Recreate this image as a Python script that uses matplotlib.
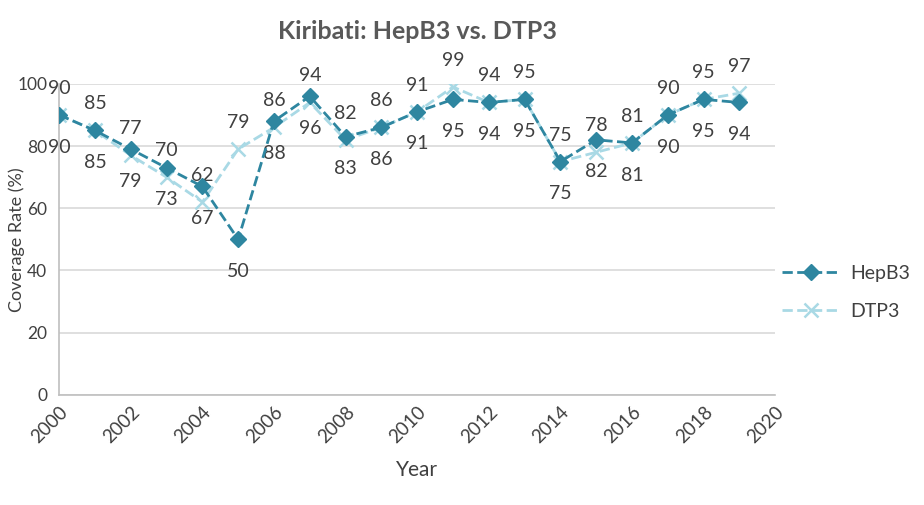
import matplotlib.pyplot as plt
import numpy as np

years = list(range(2000, 2020))
hepb3 = [90, 85, 79, 73, 67, 50, 88, 96, 83, 86, 91, 95, 94, 95, 75, 82, 81, 90, 95, 94]
dtp3 = [90, 85, 77, 70, 62, 79, 86, 94, 82, 86, 91, 99, 94, 95, 75, 78, 81, 90, 95, 97]

plt.rcParams['font.family'] = ['Lato', 'DejaVu Sans']
txt = '#404040'
dark = '#2E86A0'
light = '#A9D9E5'

fig = plt.figure(figsize=(9.24, 5.05), dpi=100)
ax = fig.add_axes([0.064, 0.218, 0.775, 0.616])

ax.plot(years, dtp3, color=light, ls='--', lw=2, marker='x', ms=10, mew=1.8,
        label='DTP3', zorder=3)
ax.plot(years, hepb3, color=dark, ls='--', lw=2, marker='D', ms=8,
        label='HepB3', zorder=4)

# labels: DTP3 above, HepB3 below
for x, v in zip(years, dtp3):
    ax.annotate(str(v), (x, v), xytext=(0, 13), textcoords='offset points',
                ha='center', va='bottom', fontsize=14, color=txt)
for x, v in zip(years, hepb3):
    ax.annotate(str(v), (x, v), xytext=(0, -17), textcoords='offset points',
                ha='center', va='top', fontsize=14, color=txt)

ax.set_xlim(2000, 2020)
ax.set_ylim(0, 100)
ax.set_xticks(range(2000, 2021, 2))
ax.set_yticks(range(0, 101, 20))
ax.tick_params(axis='x', labelrotation=45, length=0, labelsize=13.5, colors=txt, pad=6)
ax.tick_params(axis='y', length=0, labelsize=12.5, colors=txt, pad=8.5)
for lab in ax.get_xticklabels():
    lab.set_ha('right')
    lab.set_rotation_mode('anchor')
ax.grid(axis='y', color='#D9D9D9', lw=1.2)
ax.set_axisbelow(True)
for s in ['top', 'right']:
    ax.spines[s].set_visible(False)
for s in ['left', 'bottom']:
    ax.spines[s].set_color('#BFBFBF')
    ax.spines[s].set_linewidth(1.2)

ax.set_xlabel('Year', fontsize=15, color=txt, labelpad=10)
ax.set_ylabel('Coverage Rate (%)', fontsize=13, color=txt)
ax.yaxis.set_label_coords(-0.048, 0.5)
ax.set_title('Kiribati: HepB3 vs. DTP3', fontsize=18, fontweight='bold',
             color='#595959', pad=32)

h, l = ax.get_legend_handles_labels()
ax.legend(h[::-1], l[::-1], loc='center left', bbox_to_anchor=(0.985, 0.33),
          frameon=False, fontsize=14, labelcolor=txt, handlelength=3.0,
          handletextpad=0.5, labelspacing=1.1)

fig.savefig('out.png', dpi=100)
